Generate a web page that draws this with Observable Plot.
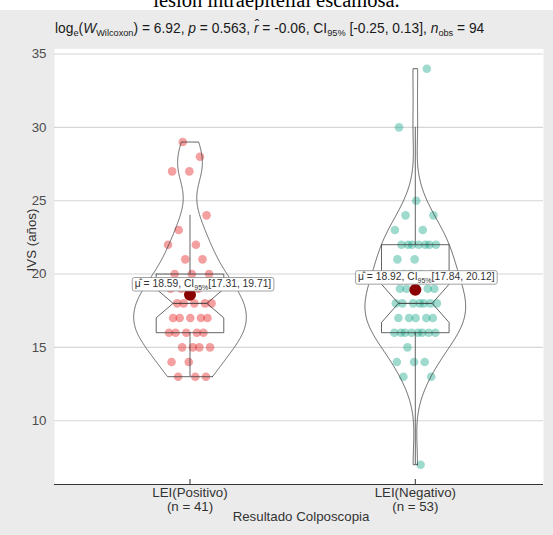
<!DOCTYPE html>
<html><head><meta charset="utf-8">
<script src="https://cdn.jsdelivr.net/npm/d3@7"></script>
<script src="https://cdn.jsdelivr.net/npm/@observablehq/plot@0.6"></script>
<style>
body{margin:0;background:#fff;}
#wrap{position:relative;width:553px;height:535px;background:#ebebeb;overflow:hidden;font-family:"Liberation Sans",Arial,sans-serif;}
#sub{position:absolute;left:55px;top:22px;font-size:13.8px;line-height:13.8px;white-space:nowrap;color:#1a1a1a;}
#sub .s{font-size:9.2px;position:relative;top:3px;}
#ylab{position:absolute;left:31px;top:240px;transform:translate(-50%,-50%) rotate(-90deg);font-size:13.3px;color:#333;white-space:nowrap;}
#xlab{position:absolute;left:301px;top:510px;transform:translateX(-50%);font-size:13.3px;line-height:13px;color:#333;white-space:nowrap;}
</style></head>
<body>
<div id="wrap">
<svg width="553" height="10" style="position:absolute;left:0;top:0;background:#fff"><text x="276.5" y="7" text-anchor="middle" font-family="Liberation Serif" font-size="20.5" fill="#000">lesión intraepitelial escamosa.</text></svg>
<div id="sub">log<span class="s">e</span>(<i>W</i><span class="s">Wilcoxon</span>) = 6.92, <i>p</i> = 0.563, <i>r̂</i> = -0.06, CI<span class="s">95%</span> [-0.25, 0.13], <i>n</i><span class="s">obs</span> = 94</div>
<div id="ylab">IVS (años)</div>
<div id="xlab">Resultado Colposcopia</div>
</div>
<script>
// ---- data ----
const groups = ["LEI(Positivo)", "LEI(Negativo)"];
const groupN = [41, 53];
const ivsPositivo = [13,13,13,14,14,15,15,15,15,16,16,16,16,16,17,17,17,17,17,18,18,18,18,18,19,19,19,19,20,20,20,21,21,22,22,23,24,27,27,28,29];
const ivsNegativo = [7,13,13,14,14,14,15,16,16,16,16,16,16,16,16,17,17,17,17,17,18,18,18,18,18,18,18,19,19,19,19,19,20,20,20,20,20,21,21,22,22,22,22,22,22,22,23,23,24,24,25,30,34];
const means = [18.59, 18.92];
const ciLow = [17.31, 17.84];
const ciHigh = [19.71, 20.12];
const yTicks = [10, 15, 20, 25, 30, 35];
const colors = ["#E41A1C", "#19A68A"];

const yDomain = [5.65, 35.35];
const series = [ivsPositivo, ivsNegativo];

// jittered points (deterministic spread)
const points = [];
series.forEach((vals, g) => {
  vals.forEach((v, i) => {
    const off = ((((i + 1) * 0.6180339887) % 1) - 0.5) * 0.2;
    points.push({g: g + 1, x: g + 1 + off, y: v, c: colors[g]});
  });
});

// violins: gaussian KDE, bw.nrd0, trimmed to range, scale = "area"
function nrd0(v) {
  const s = d3.deviation(v), q = d3.quantile(v, 0.75) - d3.quantile(v, 0.25);
  return 0.9 * Math.min(s, q / 1.34) * Math.pow(v.length, -0.2);
}
const dens = series.map(vals => {
  const bw = nrd0(vals), lo = d3.min(vals), hi = d3.max(vals), n = vals.length;
  const c = 1 / (n * bw * Math.sqrt(2 * Math.PI));
  return d3.range(512).map(k => {
    const y = lo + (hi - lo) * k / 511;
    return {y, d: c * d3.sum(vals, v => Math.exp(-0.5 * ((y - v) / bw) ** 2))};
  });
});
const dMax = d3.max(dens.flat(), d => d.d);
const violin = [];
dens.forEach((arr, g) => {
  const cx = g + 1;
  arr.forEach(p => violin.push({g, x: cx + p.d / dMax * 0.25, y: p.y}));
  arr.slice().reverse().forEach(p => violin.push({g, x: cx - p.d / dMax * 0.25, y: p.y}));
  violin.push({g, x: cx + arr[0].d / dMax * 0.25, y: arr[0].y});
});

// notched boxplots
const boxPath = [], whiskers = [], medians = [];
series.forEach((vals, g) => {
  const s = vals.slice().sort(d3.ascending);
  const q1 = d3.quantile(s, 0.25), med = d3.quantile(s, 0.5), q3 = d3.quantile(s, 0.75);
  const iqr = q3 - q1;
  const hiW = d3.max(s.filter(v => v <= q3 + 1.5 * iqr));
  const loW = d3.min(s.filter(v => v >= q1 - 1.5 * iqr));
  const nu = med + 1.58 * iqr / Math.sqrt(s.length), nl = med - 1.58 * iqr / Math.sqrt(s.length);
  const cx = g + 1, hw = 0.15, nw = 0.075;
  [[-hw, q3], [-hw, nu], [-nw, med], [-hw, nl], [-hw, q1], [hw, q1], [hw, nl], [nw, med], [hw, nu], [hw, q3], [-hw, q3]]
    .forEach(([dx, y]) => boxPath.push({g, x: cx + dx, y}));
  whiskers.push({x: cx, y1: q3, y2: hiW}, {x: cx, y1: q1, y2: loW});
  medians.push({x1: cx - nw, x2: cx + nw, y: med});
});

const meanData = means.map((m, i) => ({x: i + 1, y: m, i}));
const font = "'Liberation Sans', Arial, sans-serif";
const line = "#3d3d3d";

const svg = Plot.plot({
  width: 553, height: 495,
  marginLeft: 54, marginRight: 10, marginTop: 8.4, marginBottom: 51,
  style: {background: "transparent", fontFamily: font},
  x: {type: "linear", domain: [0.3986, 2.569], axis: null},
  y: {domain: yDomain, axis: null},
  marks: [
    Plot.frame({fill: "white", stroke: "none"}),
    Plot.gridY(yTicks, {stroke: "#d6d6d6", strokeOpacity: 1, strokeWidth: 1.1}),
    Plot.axisY(yTicks, {tickSize: 0, tickPadding: 8, fontSize: 13.3, color: "#4d4d4d", label: null}),
    Plot.dot(points, {x: "x", y: "y", fill: "c", r: 4.3, fillOpacity: 0.42, stroke: "none"}),
    Plot.line(boxPath, {x: "x", y: "y", z: "g", stroke: line, strokeWidth: 0.8}),
    Plot.ruleX(whiskers, {x: "x", y1: "y1", y2: "y2", stroke: line, strokeWidth: 0.8}),
    Plot.link(medians, {x1: "x1", x2: "x2", y1: "y", y2: "y", stroke: line, strokeWidth: 1}),
    Plot.line(violin, {x: "x", y: "y", z: "g", stroke: line, strokeWidth: 0.8}),
    Plot.ruleY([yDomain[0]], {stroke: "#333", strokeWidth: 1}),
    Plot.axisX([1, 2], {tickSize: -5, tickPadding: 8, fontSize: 13.3, lineHeight: 1.05, color: "#333", label: null,
      tickFormat: d => `${groups[d - 1]}\n(n = ${groupN[d - 1]})`}),
    Plot.dot(meanData, {x: "x", y: "y", r: 6, fill: "#8B0000"}),
    Plot.text(meanData.filter(d => d.i === 0), {x: "x", y: "y", text: () => "label", dx: 13, dy: -11, fontSize: 10.3, fill: "#333"}),
    Plot.text(meanData.filter(d => d.i === 1), {x: "x", y: "y", text: () => "label", dx: 11, dy: -13, fontSize: 10.3, fill: "#333"})
  ]
});
svg.style.position = "absolute";
svg.style.left = "0px";
svg.style.top = "40px";
document.getElementById("wrap").appendChild(svg);

// build mean labels with subscript and box
const NS = "http://www.w3.org/2000/svg";
svg.querySelectorAll('g[aria-label="text"] text').forEach((t, i) => {
  while (t.firstChild) t.removeChild(t.firstChild);
  const a = document.createElementNS(NS, "tspan");
  a.textContent = `\u03BC\u0302 = ${means[i].toFixed(2)}, CI`;
  const b = document.createElementNS(NS, "tspan");
  b.textContent = "95%"; b.setAttribute("dy", "2.5"); b.setAttribute("font-size", "7");
  const c = document.createElementNS(NS, "tspan");
  c.textContent = `[${ciLow[i].toFixed(2)}, ${ciHigh[i].toFixed(2)}]`; c.setAttribute("dy", "-2.5");
  t.append(a, b, c);
  const bb = t.getBBox();
  const r = document.createElementNS(NS, "rect");
  r.setAttribute("x", bb.x - 2.5); r.setAttribute("y", bb.y - 0.5);
  r.setAttribute("width", bb.width + 5); r.setAttribute("height", bb.height + 1);
  r.setAttribute("rx", 2); r.setAttribute("fill", "white"); r.setAttribute("stroke", "#8a8a8a"); r.setAttribute("stroke-width", "0.8");
  if (t.getAttribute("transform")) r.setAttribute("transform", t.getAttribute("transform"));
  t.parentNode.insertBefore(r, t);
});
</script>
</body></html>
